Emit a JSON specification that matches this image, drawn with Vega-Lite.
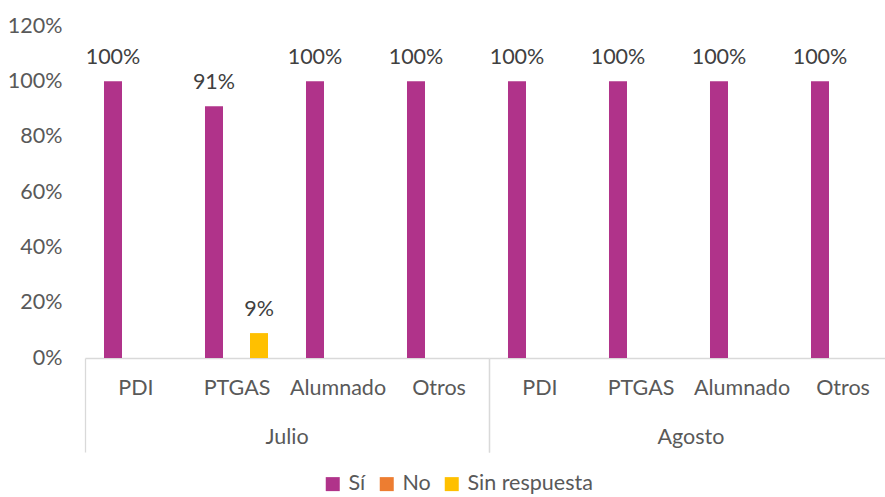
{
  "$schema": "https://vega.github.io/schema/vega-lite/v6.json",
  "padding": {"left": 7, "top": 15, "right": 0, "bottom": 0},
  "background": "white",
  "config": {
    "font": "Lato",
    "view": {"stroke": null},
    "facet": {"spacing": 0}
  },
  "data": {
    "values": [
      {"mes": "Julio", "cat": "PDI", "serie": "Sí", "v": 1.0},
      {"mes": "Julio", "cat": "PDI", "serie": "No", "v": 0},
      {"mes": "Julio", "cat": "PDI", "serie": "Sin respuesta", "v": 0},
      {"mes": "Julio", "cat": "PTGAS", "serie": "Sí", "v": 0.91},
      {"mes": "Julio", "cat": "PTGAS", "serie": "No", "v": 0},
      {"mes": "Julio", "cat": "PTGAS", "serie": "Sin respuesta", "v": 0.09},
      {"mes": "Julio", "cat": "Alumnado", "serie": "Sí", "v": 1.0},
      {"mes": "Julio", "cat": "Alumnado", "serie": "No", "v": 0},
      {"mes": "Julio", "cat": "Alumnado", "serie": "Sin respuesta", "v": 0},
      {"mes": "Julio", "cat": "Otros", "serie": "Sí", "v": 1.0},
      {"mes": "Julio", "cat": "Otros", "serie": "No", "v": 0},
      {"mes": "Julio", "cat": "Otros", "serie": "Sin respuesta", "v": 0},
      {"mes": "Agosto", "cat": "PDI", "serie": "Sí", "v": 1.0},
      {"mes": "Agosto", "cat": "PDI", "serie": "No", "v": 0},
      {"mes": "Agosto", "cat": "PDI", "serie": "Sin respuesta", "v": 0},
      {"mes": "Agosto", "cat": "PTGAS", "serie": "Sí", "v": 1.0},
      {"mes": "Agosto", "cat": "PTGAS", "serie": "No", "v": 0},
      {"mes": "Agosto", "cat": "PTGAS", "serie": "Sin respuesta", "v": 0},
      {"mes": "Agosto", "cat": "Alumnado", "serie": "Sí", "v": 1.0},
      {"mes": "Agosto", "cat": "Alumnado", "serie": "No", "v": 0},
      {"mes": "Agosto", "cat": "Alumnado", "serie": "Sin respuesta", "v": 0},
      {"mes": "Agosto", "cat": "Otros", "serie": "Sí", "v": 1.0},
      {"mes": "Agosto", "cat": "Otros", "serie": "No", "v": 0},
      {"mes": "Agosto", "cat": "Otros", "serie": "Sin respuesta", "v": 0}
    ]
  },
  "facet": {
    "column": {
      "field": "mes",
      "type": "nominal",
      "sort": ["Julio", "Agosto"],
      "title": null,
      "header": {
        "labelOrient": "bottom",
        "labelFontSize": 21.5,
        "labelColor": "#595959",
        "labelFont": "Lato",
        "labelPadding": -26
      }
    }
  },
  "spec": {
    "width": 404,
    "height": 332,
    "encoding": {
      "x": {
        "field": "cat",
        "type": "nominal",
        "sort": ["PDI", "PTGAS", "Alumnado", "Otros"],
        "title": null,
        "scale": {"paddingInner": 0, "paddingOuter": 0},
        "axis": {
          "labelAngle": 0,
          "labelFontSize": 21.5,
          "labelColor": "#595959",
          "domainColor": "#d9d9d9",
          "domainWidth": 1.3,
          "tickBand": "extent",
          "tickSize": 94,
          "tickColor": "#d9d9d9",
          "tickWidth": 1.3,
          "tickOpacity": {"condition": {"test": "datum.value === 'Otros' || !datum.value", "value": 1}, "value": 0},
          "labelPadding": -75
        }
      },
      "xOffset": {
        "field": "serie",
        "type": "nominal",
        "sort": ["Sí", "No", "Sin respuesta"],
        "scale": {"paddingInner": 0.2, "paddingOuter": 0.844}
      },
      "y": {
        "field": "v",
        "type": "quantitative",
        "title": null,
        "scale": {"domain": [0, 1.2], "nice": false},
        "axis": {
          "format": ".0%",
          "values": [0, 0.2, 0.4, 0.6, 0.8, 1.0, 1.2],
          "grid": false,
          "domain": false,
          "ticks": false,
          "labelFontSize": 21.5,
          "labelColor": "#595959",
          "labelPadding": 23
        }
      }
    },
    "layer": [
      {
        "mark": {"type": "bar"},
        "encoding": {
          "color": {
            "field": "serie",
            "type": "nominal",
            "sort": ["Sí", "No", "Sin respuesta"],
            "scale": {"domain": ["Sí", "No", "Sin respuesta"], "range": ["#B0338A", "#ED7D31", "#FFC000"]},
            "legend": {
              "title": null,
              "orient": "none",
              "legendX": 237,
              "legendY": 447,
              "direction": "horizontal",
              "symbolType": "square",
              "symbolSize": 196,
              "symbolStrokeWidth": 0,
              "labelFontSize": 21.5,
              "labelColor": "#595959",
              "columnPadding": 10,
              "labelOffset": 5
            }
          }
        }
      },
      {
        "transform": [{"filter": "datum.v > 0"}],
        "mark": {"type": "text", "fontSize": 21.5, "color": "#404040", "baseline": "alphabetic", "dy": -17},
        "encoding": {
          "text": {"field": "v", "type": "quantitative", "format": ".0%"}
        }
      }
    ]
  }
}
